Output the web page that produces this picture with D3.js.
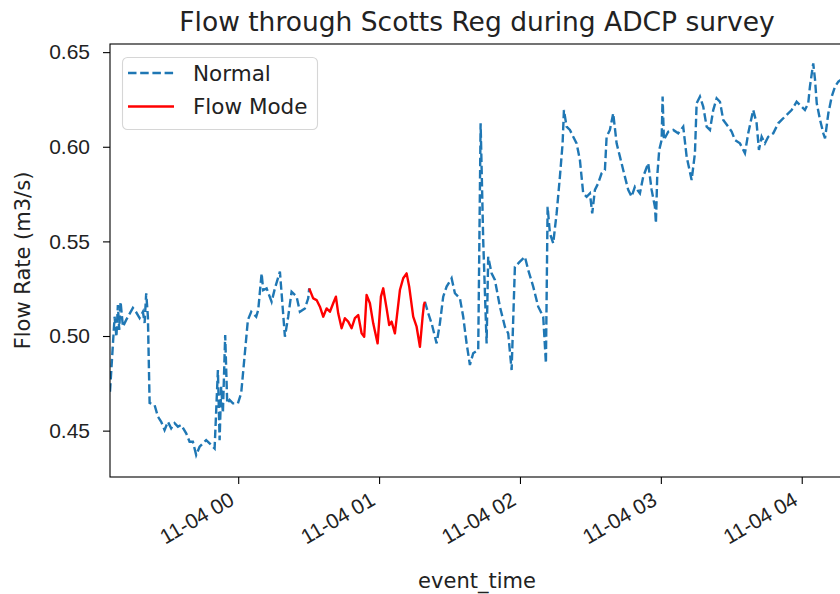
<!DOCTYPE html>
<html>
<head>
<meta charset="utf-8">
<script src="https://cdn.jsdelivr.net/npm/d3@7"></script>
<style>
  html, body { margin: 0; padding: 0; background: #fff; }
  svg { display: block; font-family: "DejaVu Sans", sans-serif; }
</style>
</head>
<body>
<div id="chart"></div>
<script>
// ---------------- data ----------------
const baseTime = "2020-11-03T23:00:00"; // minutes below are offsets from this moment
const chartTitle = "Flow through Scotts Reg during ADCP survey";
const xLabel = "event_time";
const yLabel = "Flow Rate (m3/s)";
const seriesNames = ["Normal", "Flow Mode"];
const yTickValues = [0.45, 0.50, 0.55, 0.60, 0.65];

// Normal series (null marks the gap where Flow Mode applies)
const normalMinutes = [
  5.4, 7.36, 8.13, 8.76, 9.32, 9.91, 10.9, 12.3, 15.15, 16.43, 18.01, 19.41, 20.14, 20.82, 21.54,
  22.27, 24.4, 25.8, 27.21, 28.65, 30.06, 31.46, 32.91, 34.32, 35.72, 37.85, 39.3, 40.71, 42.11,
  43.56, 44.97, 46.37, 47.82, 49.95, 51.35, 52.08, 52.76, 53.48, 54.46, 55.32, 56.34, 57.74, 59.87,
  61.28, 64.13, 65.54, 67.67, 68.52, 69.97, 70.65, 72.1, 74.22, 75.63, 77.76, 78.48, 79.89, 81.29,
  82.74, 84.87, 86.28, 88.41, 89.81, 90.24,
  null,
  139.52, 140.92, 142.37, 144.5, 145.9, 147.31, 148.76, 150.89, 152.29, 154.42, 155.83, 157.27,
  158.68, 160.09, 162.22, 163.24, 164.34, 165.79, 166.47, 167.92, 169.33, 171.46, 173.59, 174.99,
  176.44, 177.84, 179.97, 182.1, 183.51, 185.64, 187.77, 189.9, 191.05, 191.77, 192.75, 194.16,
  195.61, 197.01, 198.16, 198.72, 199.86, 201.27, 202.68, 204.12, 205.53, 206.93, 208.38, 209.79,
  210.77, 211.92, 213.32, 214.77, 216.18, 216.9, 218.31, 219.71, 221.16, 222.57, 223.97, 226.1,
  227.55, 228.95, 231.08, 232.49, 234.62, 236.07, 237.47, 237.9, 238.45, 239.3, 240.33, 240.75,
  241.3, 243.14, 245.27, 247.4, 249.53, 250.98, 253.11, 254.52, 255.24, 256.65, 258.05, 259.5,
  260.91, 262.31, 263.76, 265.17, 266.57, 268.7, 270.15, 271.55, 273.68, 275.81, 277.21, 279.34,
  280.79, 281.77, 282.92, 284.33, 285.73, 287.86, 289.99, 291.44, 293.57, 295.7, 297.82, 299.23,
  301.36, 302.77, 303.49, 304.9, 305.67, 306.39, 307.8, 309.2, 309.93, 311.33, 312.78, 314.18,
  315.59, 318.0
];
const normalFlow = [
  0.4706, 0.5102, 0.4995, 0.5164, 0.5032, 0.5181, 0.5049, 0.5085, 0.5148, 0.5128, 0.5095, 0.5128, 0.5069, 0.5226, 0.5102,
  0.4646, 0.4635, 0.4574, 0.4547, 0.4503, 0.4547, 0.4512, 0.4539, 0.4521, 0.4530, 0.4486, 0.4441, 0.4441, 0.4371,
  0.4415, 0.4433, 0.4450, 0.4433, 0.4406, 0.4820, 0.4450, 0.4732, 0.4593, 0.5005, 0.4644, 0.4662, 0.4644, 0.4644,
  0.4699, 0.5085, 0.5128, 0.5102, 0.5137, 0.5331, 0.5243, 0.5252, 0.5181, 0.5252, 0.5340, 0.5226, 0.4996, 0.5102,
  0.5234, 0.5208, 0.5128, 0.5146, 0.5199, 0.5252,
  null,
  0.5181, 0.5120, 0.5067, 0.4961, 0.5067, 0.5208, 0.5261, 0.5305, 0.5226, 0.5199, 0.5102, 0.4961,
  0.4847, 0.4909, 0.4926, 0.6124, 0.5507, 0.4961, 0.5419, 0.5331, 0.5296, 0.5155, 0.5049, 0.5014,
  0.4820, 0.5366, 0.5393, 0.5419, 0.5349, 0.5261, 0.5155, 0.5102, 0.4856, 0.5683, 0.5543, 0.5490,
  0.5648, 0.5842, 0.6018, 0.6194, 0.6106, 0.6089, 0.6053, 0.6018, 0.5930, 0.5754, 0.5736, 0.5754,
  0.5648, 0.5772, 0.5807, 0.5860, 0.5877, 0.6053, 0.6089, 0.6177, 0.6018, 0.5948, 0.5877, 0.5772,
  0.5736, 0.5789, 0.5754, 0.5842, 0.5913, 0.5772, 0.5683, 0.5596, 0.5842, 0.5983, 0.6036, 0.6265,
  0.6036, 0.6080, 0.6089, 0.6071, 0.6106, 0.5948, 0.5824, 0.5966, 0.6230, 0.6265, 0.6212, 0.6106,
  0.6089, 0.6194, 0.6256, 0.6238, 0.6142, 0.6106, 0.6080, 0.6036, 0.6018, 0.5966, 0.6071, 0.6194,
  0.6124, 0.5983, 0.6053, 0.6018, 0.6053, 0.6071, 0.6124, 0.6142, 0.6168, 0.6194, 0.6238, 0.6221,
  0.6194, 0.6230, 0.6318, 0.6441, 0.6353, 0.6230, 0.6142, 0.6071, 0.6045, 0.6177, 0.6265, 0.6318,
  0.6344, 0.6364
];

// Flow Mode series
const flowModeMinutes = [
  90.24, 91.94, 93.39, 94.8, 96.2, 97.65, 99.05, 100.46, 101.61, 102.59, 104.04, 105.44, 106.85,
  108.3, 109.7, 111.11, 112.56, 113.66, 114.68, 116.09, 117.5, 119.37, 120.78, 121.76, 123.2,
  124.31, 125.33, 126.74, 128.87, 130.27, 131.72, 132.83, 134.53, 135.98, 137.39, 138.54, 139.09, 139.52
];
const flowModeFlow = [
  0.5252, 0.5199, 0.5190, 0.5155, 0.5102, 0.5146, 0.5128, 0.5173, 0.5208, 0.5120, 0.5041, 0.5094, 0.5076,
  0.5041, 0.5094, 0.5111, 0.5014, 0.4996, 0.5217, 0.5173, 0.5067, 0.4961, 0.5208, 0.5252, 0.5146,
  0.5058, 0.5076, 0.5014, 0.5243, 0.5305, 0.5331, 0.5261, 0.5102, 0.5049, 0.4943, 0.5102, 0.5164, 0.5181
];

// ---------------- drawing ----------------
const W = 840, H = 594;
const plot = { left: 110, top: 44, right: 844, bottom: 477 };
const base = new Date(baseTime);
const toDate = m => new Date(base.getTime() + m * 60000);

const normal = normalMinutes.map((m, i) => (m === null ? null : { t: toDate(m), v: normalFlow[i] }));
const flowMode = flowModeMinutes.map((m, i) => ({ t: toDate(m), v: flowModeFlow[i] }));

const x = d3.scaleTime()
  .domain([toDate(normalMinutes[0]), toDate(normalMinutes[normalMinutes.length - 1])])
  .range([plot.left, plot.right]);
const y = d3.scaleLinear().domain([0.4255, 0.6543]).range([plot.bottom, plot.top]);

const svg = d3.select("#chart").append("svg").attr("width", W).attr("height", H);

svg.append("defs").append("clipPath").attr("id", "clip")
  .append("rect").attr("x", plot.left).attr("y", plot.top)
  .attr("width", plot.right - plot.left).attr("height", plot.bottom - plot.top);

const line = d3.line().defined(d => d !== null).x(d => x(d.t)).y(d => y(d.v));
const LW = 2.4, DASH = "8.5,3.7";

const lines = svg.append("g").attr("clip-path", "url(#clip)");
lines.append("path").datum(normal)
  .attr("d", line).attr("fill", "none").attr("stroke", "#1f77b4")
  .attr("stroke-width", LW).attr("stroke-dasharray", DASH);
lines.append("path").datum(flowMode)
  .attr("d", line).attr("fill", "none").attr("stroke", "#ff0000")
  .attr("stroke-width", LW).attr("stroke-linejoin", "round");

// axes
const tickFont = 21;
const xAxis = d3.axisBottom(x).ticks(d3.timeHour.every(1))
  .tickFormat(d3.timeFormat("%m-%d %H")).tickSizeOuter(0).tickSize(7).tickPadding(7);
const gx = svg.append("g").attr("transform", `translate(0,${plot.bottom})`).call(xAxis);
gx.select(".domain").remove();
gx.selectAll(".tick line").attr("stroke", "#000").attr("stroke-width", 1.1);
gx.selectAll(".tick text")
  .attr("font-size", tickFont).attr("fill", "#222")
  .attr("text-anchor", "end")
  .attr("dy", null)
  .attr("y", null)
  .attr("transform", "translate(-3,27) rotate(-30)");

const yAxis = d3.axisLeft(y).tickValues(yTickValues).tickFormat(d3.format(".2f"))
  .tickSizeOuter(0).tickSize(7).tickPadding(13);
const gy = svg.append("g").attr("transform", `translate(${plot.left},0)`).call(yAxis);
gy.select(".domain").remove();
gy.selectAll(".tick line").attr("stroke", "#000").attr("stroke-width", 1.1);
gy.selectAll(".tick text").attr("font-size", tickFont).attr("fill", "#222");

// frame (spines)
svg.append("rect")
  .attr("x", plot.left).attr("y", plot.top)
  .attr("width", plot.right - plot.left).attr("height", plot.bottom - plot.top)
  .attr("fill", "none").attr("stroke", "#000").attr("stroke-width", 1.1);

// title & labels
svg.append("text").attr("x", (plot.left + plot.right) / 2).attr("y", 31)
  .attr("text-anchor", "middle").attr("font-size", 26.5).attr("fill", "#222").text(chartTitle);
svg.append("text").attr("x", (plot.left + plot.right) / 2).attr("y", 588)
  .attr("text-anchor", "middle").attr("font-size", tickFont).attr("fill", "#222").text(xLabel);
svg.append("text")
  .attr("transform", `translate(29.5,${(plot.top + plot.bottom) / 2}) rotate(-90)`)
  .attr("text-anchor", "middle").attr("font-size", tickFont).attr("fill", "#222").text(yLabel);

// legend
const lg = svg.append("g");
lg.append("rect").attr("x", 122.5).attr("y", 57.5).attr("width", 195).attr("height", 72).attr("rx", 5)
  .attr("fill", "#fff").attr("fill-opacity", 0.8).attr("stroke", "#d6d6d6").attr("stroke-width", 1.1);
const legendItems = [
  { name: seriesNames[0], color: "#1f77b4", dash: DASH },
  { name: seriesNames[1], color: "#ff0000", dash: null }
];
legendItems.forEach((it, i) => {
  const cy = 73 + i * 33.5;
  lg.append("line").attr("x1", 128).attr("x2", 174).attr("y1", cy).attr("y2", cy)
    .attr("stroke", it.color).attr("stroke-width", LW).attr("stroke-dasharray", it.dash);
  lg.append("text").attr("x", 193).attr("y", cy).attr("dy", "0.35em")
    .attr("font-size", 21.5).attr("fill", "#222").text(it.name);
});
</script>
</body>
</html>
